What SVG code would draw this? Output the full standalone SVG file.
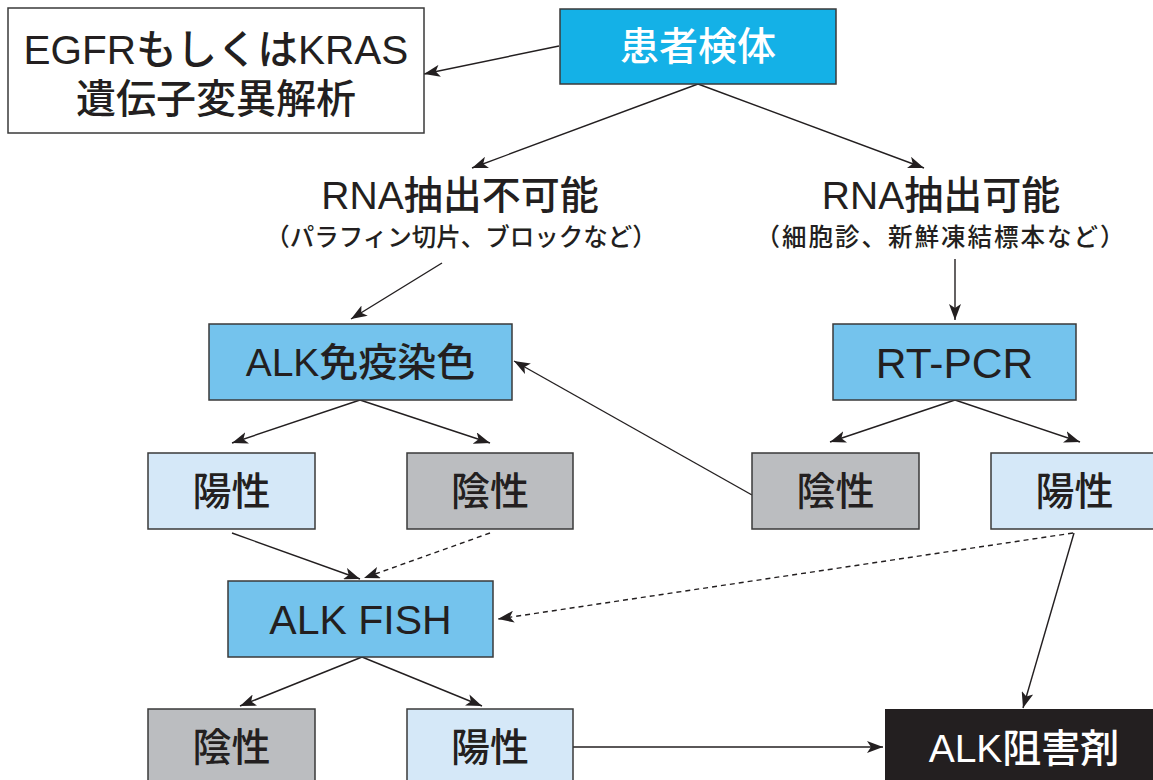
<svg xmlns="http://www.w3.org/2000/svg" width="1153" height="780" viewBox="0 0 1153 780">
<style>
text{font-family:"Liberation Sans","Noto Sans CJK JP",sans-serif;fill:#231f20;text-anchor:middle;font-weight:500}
.t{font-size:39px}
.s{font-size:24.5px}
.w{fill:#ffffff}
.box{stroke:#3a3a3a;stroke-width:1.5}
.c{fill:none;stroke:#231f20;stroke-width:1.4}
.d{stroke-dasharray:5 4}
</style>
<defs>
<marker id="ah" markerUnits="userSpaceOnUse" viewBox="0 0 16 12" markerWidth="16" markerHeight="12" refX="16" refY="6" orient="auto">
<path d="M0,0 L16,6 L0,12 L4,6 z" fill="#231f20"/>
</marker>
</defs>
<rect width="1153" height="780" fill="#ffffff"/>
<g id="connectors">
<line class="c" x1="559" y1="46" x2="424" y2="74" marker-end="url(#ah)"/>
<line class="c" x1="698" y1="84" x2="472" y2="168" marker-end="url(#ah)"/>
<line class="c" x1="698" y1="84" x2="924" y2="168" marker-end="url(#ah)"/>
<line class="c" x1="442" y1="263" x2="351" y2="319" marker-end="url(#ah)"/>
<line class="c" x1="955" y1="259" x2="955" y2="320" marker-end="url(#ah)"/>
<line class="c" x1="360" y1="400" x2="232" y2="443" marker-end="url(#ah)"/>
<line class="c" x1="360" y1="400" x2="490" y2="443" marker-end="url(#ah)"/>
<line class="c" x1="955" y1="400" x2="830" y2="442" marker-end="url(#ah)"/>
<line class="c" x1="955" y1="400" x2="1080" y2="442" marker-end="url(#ah)"/>
<line class="c" x1="752" y1="495" x2="514" y2="361" marker-end="url(#ah)"/>
<line class="c" x1="232" y1="533" x2="360" y2="579" marker-end="url(#ah)"/>
<line class="c d" x1="490" y1="533" x2="364" y2="578" marker-end="url(#ah)"/>
<line class="c d" x1="1073" y1="533" x2="498" y2="619" marker-end="url(#ah)"/>
<line class="c" x1="1074" y1="533" x2="1023" y2="708" marker-end="url(#ah)"/>
<line class="c" x1="362" y1="657" x2="240" y2="706" marker-end="url(#ah)"/>
<line class="c" x1="362" y1="657" x2="482" y2="706" marker-end="url(#ah)"/>
<line class="c" x1="573" y1="747" x2="883" y2="747" marker-end="url(#ah)"/>
</g>
<g id="egfr">
<rect class="box" x="8" y="8" width="416" height="125" fill="#ffffff"/>
<text class="t" x="216" y="64" style="font-size:40.5px">EGFRもしくはKRAS</text>
<text class="t" x="216" y="113" style="font-size:40px">遺伝子変異解析</text>
</g>
<g id="specimen">
<rect class="box" x="560" y="9" width="276" height="75" fill="#14b1e7"/>
<text class="t w" x="698" y="60">患者検体</text>
</g>
<g id="rna-ng">
<text class="t" x="460" y="209">RNA抽出不可能</text>
<text class="s" x="461" y="246">（パラフィン切片、ブロックなど）</text>
</g>
<g id="rna-ok">
<text class="t" x="941" y="209">RNA抽出可能</text>
<text class="s" x="941" y="246" style="letter-spacing:2px">（細胞診、新鮮凍結標本など）</text>
</g>
<g id="ihc">
<rect class="box" x="209" y="324" width="303" height="76" fill="#74c3ed"/>
<text class="t" x="360.5" y="376">ALK免疫染色</text>
</g>
<g id="rtpcr">
<rect class="box" x="833" y="324" width="243" height="76" fill="#74c3ed"/>
<text class="t" x="954.5" y="378" style="font-size:42.5px">RT-PCR</text>
</g>
<g id="ihc-pos">
<rect class="box" x="148" y="453" width="167" height="76" fill="#d5e8f8"/>
<text class="t" x="231.5" y="505">陽性</text>
</g>
<g id="ihc-neg">
<rect class="box" x="407" y="453" width="166" height="76" fill="#bbbdc0"/>
<text class="t" x="490" y="505">陰性</text>
</g>
<g id="pcr-neg">
<rect class="box" x="752" y="453" width="167" height="76" fill="#bbbdc0"/>
<text class="t" x="835.5" y="505">陰性</text>
</g>
<g id="pcr-pos">
<rect class="box" x="991" y="453" width="167" height="76" fill="#d5e8f8"/>
<text class="t" x="1074.5" y="505">陽性</text>
</g>
<g id="fish">
<rect class="box" x="228" y="581" width="265" height="76" fill="#74c3ed"/>
<text class="t" x="360.5" y="634" style="font-size:41px">ALK FISH</text>
</g>
<g id="fish-neg">
<rect class="box" x="148" y="709" width="167" height="80" fill="#bbbdc0"/>
<text class="t" x="231.5" y="761">陰性</text>
</g>
<g id="fish-pos">
<rect class="box" x="407" y="709" width="166" height="80" fill="#d5e8f8"/>
<text class="t" x="490" y="761">陽性</text>
</g>
<g id="inhibitor">
<rect x="885" y="709" width="273" height="80" fill="#231f20"/>
<text class="t w" x="1024" y="762">ALK阻害剤</text>
</g>
</svg>
